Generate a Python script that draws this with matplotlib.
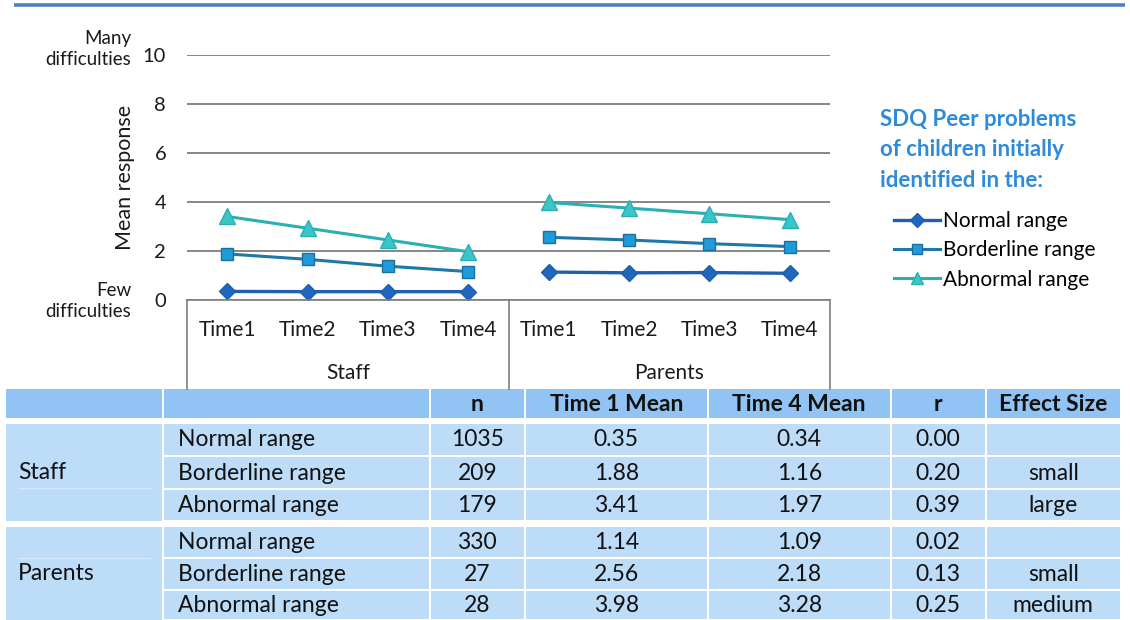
import matplotlib.pyplot as plt
from matplotlib.patches import Rectangle
from matplotlib import transforms

plt.rcParams['font.family'] = ['Lato', 'DejaVu Sans']

# chart data
times = ['Time1', 'Time2', 'Time3', 'Time4']
groups = ['Staff', 'Parents']
normal = [0.35, 0.34, 0.34, 0.34, 1.14, 1.11, 1.12, 1.09]
borderline = [1.88, 1.66, 1.38, 1.16, 2.56, 2.45, 2.30, 2.18]
abnormal = [3.41, 2.93, 2.45, 1.97, 3.98, 3.75, 3.52, 3.28]
series_names = ['Normal range', 'Borderline range', 'Abnormal range']

# table data
col_labels = ['', '', 'n', 'Time 1 Mean', 'Time 4 Mean', 'r', 'Effect Size']
row_ranges = ['Normal range', 'Borderline range', 'Abnormal range']
n_vals = [['1035', '209', '179'], ['330', '27', '28']]
t1_mean = [['0.35', '1.88', '3.41'], ['1.14', '2.56', '3.98']]
t4_mean = [['0.34', '1.16', '1.97'], ['1.09', '2.18', '3.28']]
r_vals = [['0.00', '0.20', '0.39'], ['0.02', '0.13', '0.25']]
effect = [['', 'small', 'large'], ['', 'small', 'medium']]

txt = '#1a1a1a'
fig = plt.figure(figsize=(11.3, 6.2), dpi=100)

# overlay in pixel coordinates for the table and decorations
ov = fig.add_axes([0, 0, 1, 1], zorder=0)
ov.set_xlim(0, 1130)
ov.set_ylim(620, 0)
ov.axis('off')

# top blue rule
ov.plot([14, 1125], [5, 5], color='#4F81BD', lw=2.6, solid_capstyle='butt')

# line chart
ax = fig.add_axes([187 / 1130, 1 - 300 / 620, 643 / 1130, 245 / 620], zorder=2)
ax.patch.set_alpha(0)
x = list(range(len(normal)))
ax.plot(x[:4], normal[:4], color='#1F5FAD', lw=2.4, marker='D', ms=8, mfc='#1F66BE', mec='#1F5FAD')
ax.plot(x[4:], normal[4:], color='#1F5FAD', lw=2.4, marker='D', ms=8, mfc='#1F66BE', mec='#1F5FAD')
ax.plot(x[:4], borderline[:4], color='#1E78A8', lw=2.2, marker='s', ms=8.5, mfc='#1E9BD8', mec='#1B6FA0')
ax.plot(x[4:], borderline[4:], color='#1E78A8', lw=2.2, marker='s', ms=8.5, mfc='#1E9BD8', mec='#1B6FA0')
ax.plot(x[:4], abnormal[:4], color='#2AAFB3', lw=2.2, marker='^', ms=11, mfc='#3AC6C8', mec='#2AAFB3')
ax.plot(x[4:], abnormal[4:], color='#2AAFB3', lw=2.2, marker='^', ms=11, mfc='#3AC6C8', mec='#2AAFB3')

ax.set_xlim(-0.5, 7.5)
ax.set_ylim(0, 10)
ax.set_yticks(range(0, 11, 2))
ax.yaxis.grid(True, color='#868686', lw=1.4)
ax.set_axisbelow(True)
for s in ['top', 'right', 'left']:
    ax.spines[s].set_visible(False)
ax.spines['bottom'].set_color('#7F7F7F')
ax.spines['bottom'].set_linewidth(1.2)
ax.tick_params(axis='y', length=0, pad=15, labelsize=14.5, labelcolor=txt)
ax.set_xticks(x)
ax.set_xticklabels(times * 2)
ax.tick_params(axis='x', length=0, pad=14.5, labelsize=15, labelcolor=txt)

# category boxes below axis
trans = transforms.blended_transform_factory(ax.transData, ax.transAxes)
for bx in [-0.5, 3.5, 7.5]:
    ax.plot([bx, bx], [0, -0.365], color='#7F7F7F', lw=1.2, transform=trans, clip_on=False)
for i, g in enumerate(groups):
    ax.text(i * 4 + 1.5, -0.297, g, transform=trans, ha='center', va='center', fontsize=15, color=txt)

ax.set_ylabel('Mean response', fontsize=15.5, color=txt)
ax.yaxis.set_label_coords(-52 / 643, 0.5)
fig.text(131 / 1130, 1 - 49 / 620, 'Many\ndifficulties', ha='right', va='center', fontsize=13.5,
         color=txt, linespacing=1.3)
fig.text(131 / 1130, 1 - 301 / 620, 'Few\ndifficulties', ha='right', va='center', fontsize=13.5,
         color=txt, linespacing=1.3)

# legend
fig.text(880 / 1130, 1 - 150 / 620, 'SDQ Peer problems\nof children initially\nidentified in the:',
         ha='left', va='center', fontsize=16, fontweight='bold', color='#2E8BDB', linespacing=1.55)
handles = ax.get_lines()[0:6:2]
fig.legend(handles, series_names, loc='upper left', bbox_to_anchor=(894 / 1130, 1 - 211 / 620),
           frameon=False, fontsize=15, handlelength=2.2, handletextpad=0.15, labelspacing=0.45,
           borderaxespad=0, borderpad=0, markerscale=0.85)

# table
col_edges = [6, 164, 431, 526, 709, 892, 987, 1122]
header_top, header_bot = 389, 418
group_rows = [[(424, 456), (457, 489), (490, 521)], [(527, 558), (559, 590), (591, 620)]]
faint_rule = [488, 558]
head_c = '#91C4F5'
body_c = '#BCDCF8'
gap = 2.5
fs = 16.5

for c in range(len(col_labels)):
    x0, x1 = col_edges[c], col_edges[c + 1] - gap
    ov.add_patch(Rectangle((x0, header_top), x1 - x0, header_bot - header_top, color=head_c, lw=0))
    ov.text((x0 + x1) / 2, (header_top + header_bot) / 2 + 1, col_labels[c], ha='center', va='center',
            fontsize=fs, fontweight='bold', color='#111111')

cols = [n_vals, t1_mean, t4_mean, r_vals, effect]
for g, rows in enumerate(group_rows):
    top, bot = rows[0][0], rows[-1][1]
    x0, x1 = col_edges[0], col_edges[1] - gap
    ov.add_patch(Rectangle((x0, top), x1 - x0, bot - top, color=body_c, lw=0))
    ov.plot([18, 150], [faint_rule[g], faint_rule[g]], color='#D6E9FB', lw=1)
    ov.text(18, (top + bot) / 2, groups[g], ha='left', va='center', fontsize=fs, color='#111111')
    for r, (y0, y1) in enumerate(rows):
        for c in range(1, len(col_labels)):
            cx0, cx1 = col_edges[c], col_edges[c + 1] - gap
            ov.add_patch(Rectangle((cx0, y0), cx1 - cx0, y1 - y0 - 1.2, color=body_c, lw=0))
        yc = (y0 + y1) / 2
        ov.text(178, yc, row_ranges[r], ha='left', va='center', fontsize=fs, color='#111111')
        for k, vals in enumerate(cols):
            c = k + 2
            ov.text((col_edges[c] + col_edges[c + 1] - gap) / 2, yc, vals[g][r], ha='center',
                    va='center', fontsize=fs, color='#111111')

fig.savefig('out.png', dpi=100)
